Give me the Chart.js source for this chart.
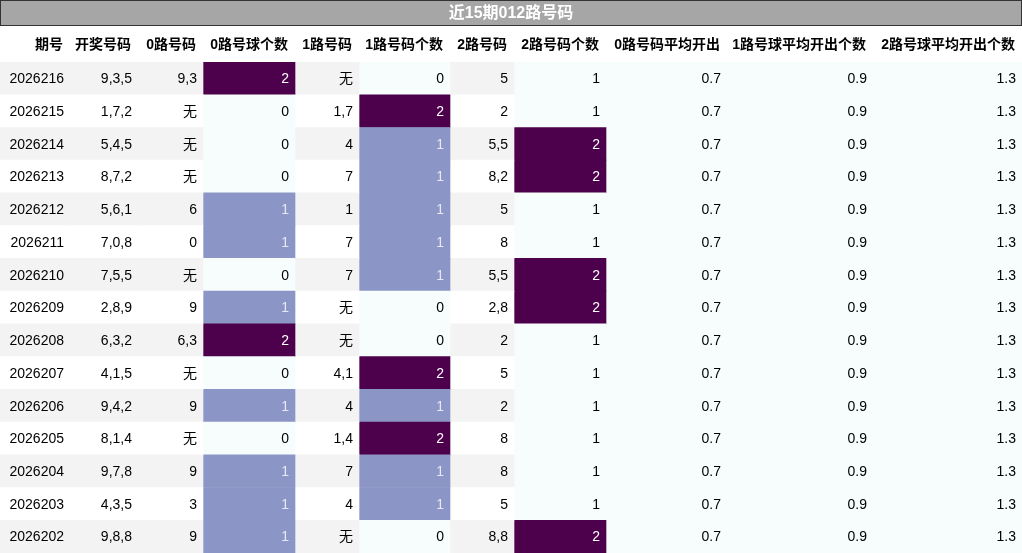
<!DOCTYPE html>
<html><head><meta charset="utf-8">
<script src="https://cdn.jsdelivr.net/npm/chart.js@4/dist/chart.umd.min.js"></script>
<style>html,body{margin:0;padding:0;background:#fff}#w{width:1022px;height:553px}</style>
</head><body><div id="w"><canvas id="c"></canvas></div>
<script>
const titleText = "近15期012路号码";
const headers = ["期号","开奖号码","0路号码","0路号球个数","1路号码","1路号码个数","2路号码","2路号码个数","0路号码平均开出","1路号球平均开出个数","2路号球平均开出个数"];
const periods = ["2026216","2026215","2026214","2026213","2026212","2026211","2026210","2026209","2026208","2026207","2026206","2026205","2026204","2026203","2026202"];
const draws = ["9,3,5","1,7,2","5,4,5","8,7,2","5,6,1","7,0,8","7,5,5","2,8,9","6,3,2","4,1,5","9,4,2","8,1,4","9,7,8","4,3,5","9,8,8"];
const road0 = ["9,3","无","无","无","6","0","无","9","6,3","无","9","无","9","3","9"];
const road0cnt = [2,0,0,0,1,1,0,1,2,0,1,0,1,1,1];
const road1 = ["无","1,7","4","7","1","7","7","无","无","4,1","4","1,4","7","4","无"];
const road1cnt = [0,2,1,1,1,1,1,0,0,2,1,2,1,1,0];
const road2 = ["5","2","5,5","8,2","5","8","5,5","2,8","2","5","2","8","8","5","8,8"];
const road2cnt = [1,1,2,2,1,1,2,2,1,1,1,1,1,1,2];
const avg0 = Array(15).fill("0.7");
const avg1 = Array(15).fill("0.9");
const avg2 = Array(15).fill("1.3");

const colEdges = [0,70,138,203,295,359,450,514,606,727,873,1022];
const columns = [periods,draws,road0,road0cnt,road1,road1cnt,road2,road2cnt,avg0,avg1,avg2];
const gradientCols = [3,5,7,8,9,10];
const FONT = "'Liberation Sans','Noto Sans CJK SC',sans-serif";

function cellColor(ci, ri){
  if(gradientCols.includes(ci)){
    const vals = columns[ci].map(Number);
    const mn = Math.min(...vals), mx = Math.max(...vals);
    const v = Number(columns[ci][ri]);
    if(mx===mn || v===mn) return ["#f7fcfd","#000"];
    const t=(v-mn)/(mx-mn);
    if(t>=1) return ["#4d004b","#fff"];
    return ["#8c96c6","#e8e8f4"];
  }
  return [ri%2===0 ? "#f3f3f3" : "#ffffff","#000"];
}

const datasets = columns.map((col,ci)=>({
  data: col.map(()=>[colEdges[ci],colEdges[ci+1]]),
  backgroundColor: col.map((_,ri)=>cellColor(ci,ri)[0]),
  borderWidth:0, barPercentage:1, categoryPercentage:1, grouped:false
}));

const tablePlugin = {
  id:'tbl',
  beforeDraw(chart){
    const ctx=chart.ctx;
    ctx.save();
    ctx.fillStyle="#a6a6a6"; ctx.fillRect(0,0,1022,26);
    ctx.strokeStyle="#333"; ctx.lineWidth=1; ctx.strokeRect(0.5,0.5,1021,25);
    ctx.fillStyle="#fff"; ctx.font="bold 16px "+FONT; ctx.textAlign="center"; ctx.textBaseline="middle";
    ctx.fillText(titleText,511,14);
    ctx.fillStyle="#000"; ctx.font="bold 14px "+FONT; ctx.textAlign="right";
    headers.forEach((h,i)=>ctx.fillText(h,colEdges[i+1]-7,45));
    ctx.restore();
  },
  afterDatasetsDraw(chart){
    const ctx=chart.ctx;
    ctx.save(); ctx.font="14px "+FONT; ctx.textAlign="right"; ctx.textBaseline="middle";
    chart.data.datasets.forEach((ds,ci)=>{
      chart.getDatasetMeta(ci).data.forEach((el,ri)=>{
        ctx.fillStyle=cellColor(ci,ri)[1];
        ctx.fillText(String(columns[ci][ri]), el.x-6, el.y+1);
      });
    });
    ctx.restore();
  }
};

new Chart(document.getElementById('c'),{
  type:'bar',
  data:{labels:periods,datasets},
  options:{
    indexAxis:'y', responsive:true, maintainAspectRatio:false, animation:false,
    layout:{padding:{top:62,left:0,right:0,bottom:0}},
    plugins:{legend:{display:false},tooltip:{enabled:false},title:{display:false}},
    scales:{
      x:{type:'linear',min:0,max:1022,display:false},
      y:{display:false}
    }
  },
  plugins:[tablePlugin]
});
</script></body></html>
